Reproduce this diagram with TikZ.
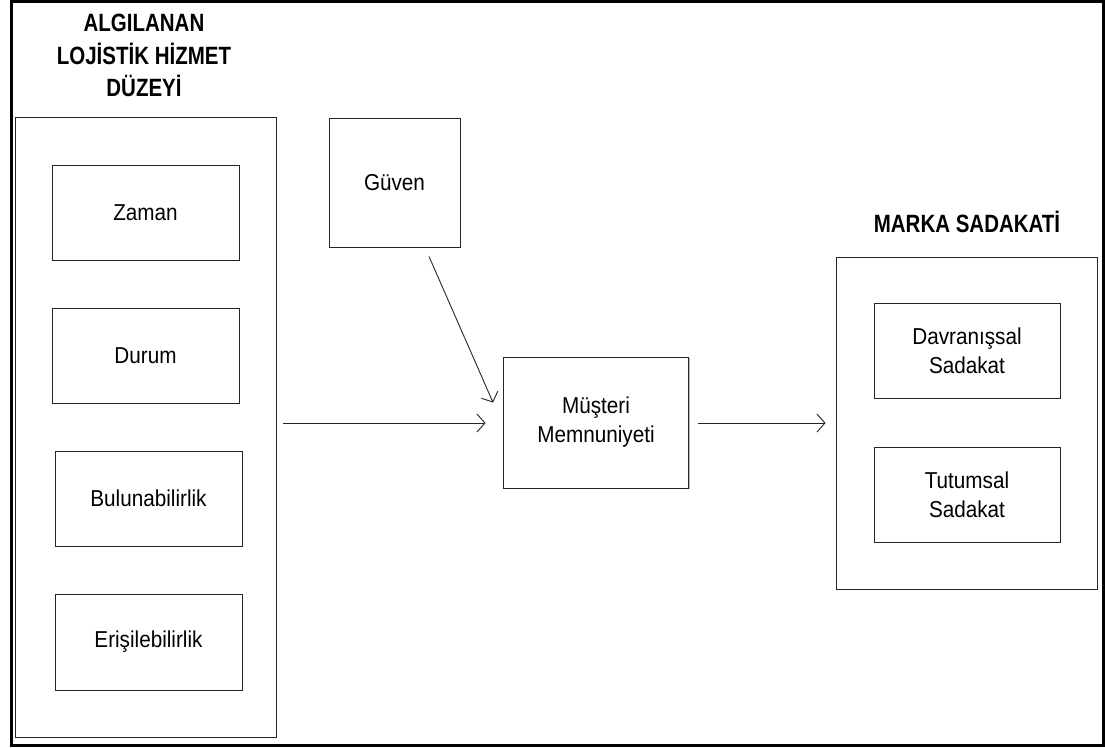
\documentclass[tikz,border=0pt]{standalone}
\usepackage{fontspec}
\setmainfont{Liberation Sans}[FakeStretch=0.9]
\newfontfamily\headfont{Liberation Sans Bold}[FakeStretch=0.82]
\usetikzlibrary{arrows.meta,shadows,calc}

\tikzset{
  framebox/.style={draw=black!85, line width=0.9pt, fill=white, inner sep=0pt,
    general shadow={fill=gray!55, shadow xshift=1.3pt, shadow yshift=-1.3pt}},
  itembox/.style={framebox, align=center,
    font=\fontsize{23}{29}\selectfont},
  heading/.style={inner sep=0pt, align=center,
    font=\headfont\fontsize{25}{32.5}\selectfont},
  link/.style={draw=black!85, line width=0.9pt,
    -{Straight Barb[length=8pt,width=18pt,line width=0.9pt]}}
}

\begin{document}
\begin{tikzpicture}[x=1pt,y=-1pt]
  \useasboundingbox (0,0) rectangle (1105,747);
  \fill[white] (0,0) rectangle (1105,747);
  % outer frame
  \draw[line width=3pt] (11.5,1.5) rectangle (1103.5,745.5);

  % left group: perceived logistics service level
  \node[heading] (lhead) at (144,55.5) {ALGILANAN\\LOJİSTİK HİZMET\\DÜZEYİ};
  \node[framebox, minimum width=261pt, minimum height=620pt] (lgroup) at (145.5,427) {};
  \node[itembox, minimum width=187pt, minimum height=95pt] (zaman) at (145.5,212.5) {Zaman};
  \node[itembox, minimum width=187pt, minimum height=95pt] (durum) at (145.5,355.5) {Durum};
  \node[itembox, minimum width=187pt, minimum height=95pt] (bulun) at (148.5,498.5) {Bulunabilirlik};
  \node[itembox, minimum width=187pt, minimum height=96pt] (eris) at (148.5,642) {Erişilebilirlik};

  % trust
  \node[itembox, minimum width=131pt, minimum height=129pt] (guven) at (394.5,182.5) {Güven};

  % customer satisfaction
  \node[itembox, minimum width=185pt, minimum height=131pt] (musteri) at (596,422.5) {Müşteri\\Memnuniyeti};

  % right group: brand loyalty
  \node[heading, anchor=base] (rhead) at (967,232) {MARKA SADAKATİ};
  \node[framebox, minimum width=261pt, minimum height=332pt] (rgroup) at (966.5,423) {};
  \node[itembox, minimum width=186pt, minimum height=95pt] (davr) at (967,350.5) {Davranışsal\\Sadakat};
  \node[itembox, minimum width=186pt, minimum height=95pt] (tutum) at (967,494.5) {Tutumsal\\Sadakat};

  % connector end points
  \coordinate (gstart) at ($(guven.south)+(34.5,9)$);
  \coordinate (gend) at ($(musteri.north west)+(-10,46)$);
  \coordinate (lstart) at ($(lgroup.east)+(7,-4)$);
  \coordinate (lend) at ($(musteri.west)+(-17.5,0.5)$);
  \coordinate (mstart) at ($(musteri.east)+(9.5,0.5)$);
  \coordinate (mend) at ($(rgroup.west)+(-10,0)$);

  \draw[link] (gstart) -- (gend);
  \draw[link] (lstart) -- (lend);
  \draw[link] (mstart) -- (mend);
\end{tikzpicture}
\end{document}
